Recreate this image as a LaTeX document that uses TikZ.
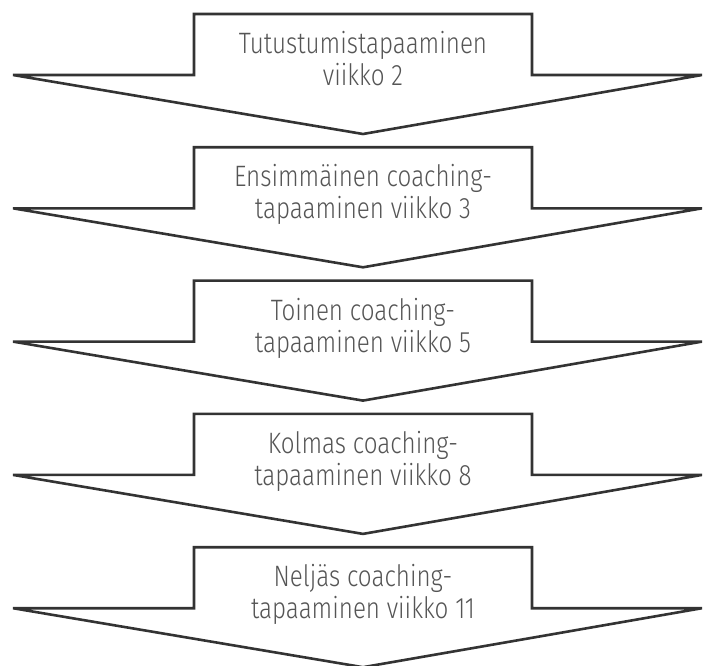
\documentclass[tikz,border=0pt]{standalone}
\usepackage{fontspec}
\setmainfont{Fira Sans}[UprightFont={* Light},FakeStretch=0.82]
\usepackage{tikz}

\definecolor{edgegray}{HTML}{333333}
\definecolor{textgray}{HTML}{555555}

\begin{document}
\begin{tikzpicture}[x=1pt,y=-1pt,
  stage/.style={draw=edgegray,line width=2.6pt,fill=white,line join=miter},
  lbl/.style={anchor=north,align=center,inner sep=0pt,text=textgray,
    font=\fontsize{29.5}{32}\selectfont}]
\useasboundingbox (0,0) rectangle (704,666);
\foreach \i/\txt in {0/{Tutustumistapaaminen\\viikko 2},
  1/{Ensimmäinen coaching-\\tapaaminen viikko 3},
  2/{Toinen coaching-\\tapaaminen viikko 5},
  3/{Kolmas coaching-\\tapaaminen viikko 8},
  4/{Neljäs coaching-\\tapaaminen viikko 11}}{
  \pgfmathsetmacro\T{14+133.3*\i}
  \coordinate (tip\i) at (363,\T+120);
  \draw[stage] (194,\T) -- (532,\T) -- (532,\T+61) -- (702,\T+61)
    -- (tip\i) -- (13,\T+61) -- (194,\T+61) -- cycle;
  \node[lbl] (lbl\i) at (363,\T+17) {\txt};
}
\end{tikzpicture}
\end{document}
